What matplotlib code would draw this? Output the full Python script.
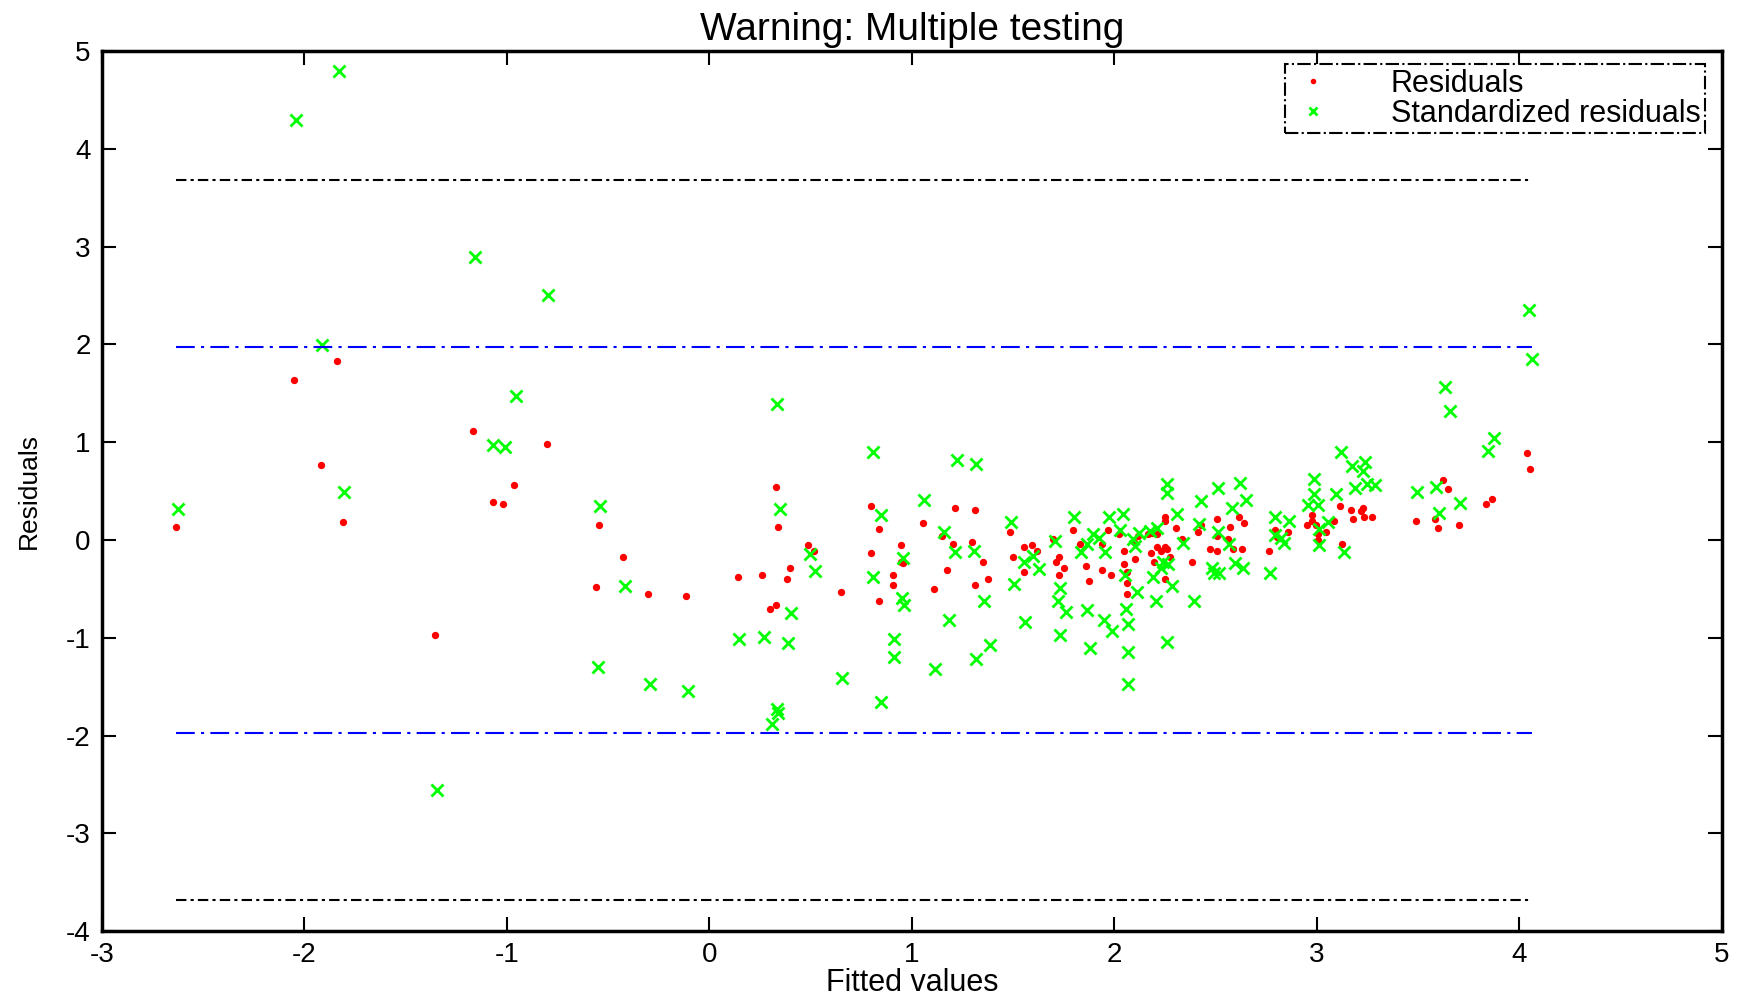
import numpy as np
import matplotlib
matplotlib.use('Agg')
import matplotlib.pyplot as plt

plt.rcParams['font.family'] = ['Liberation Sans', 'DejaVu Sans']
plt.rcParams['axes.unicode_minus'] = False

# residuals (red dots): fitted value, residual
res_fit = [-2.632, -2.054, -1.920, -1.839, -1.811, -1.355, -1.166, -1.071, -1.018, -0.964, -0.801,
           -0.560, -0.547, -0.425, -0.304, -0.117, 0.139, 0.261, 0.300, 0.327, 0.327, 0.340, 0.381, 0.396,
           0.488, 0.517, 0.649, 0.796, 0.796, 0.837, 0.837, 0.905, 0.905, 0.946, 0.956, 0.946,
           1.054, 1.108, 1.148, 1.174, 1.204, 1.215, 1.296, 1.309, 1.309, 1.350, 1.376,
           1.484, 1.498, 1.552, 1.552, 1.593, 1.619, 1.695, 1.713, 1.726, 1.728, 1.752, 1.793, 1.831,
           1.861, 1.873, 1.941, 1.941, 1.969, 1.982, 2.023, 2.048, 2.049, 2.061, 2.064, 2.064, 2.097,
           2.102, 2.118, 2.166, 2.182, 2.187, 2.195, 2.210, 2.212, 2.228, 2.251, 2.251, 2.251, 2.251,
           2.261, 2.276, 2.305, 2.332, 2.384, 2.414, 2.429, 2.474, 2.507, 2.507, 2.507, 2.560, 2.573,
           2.586, 2.614, 2.629, 2.642, 2.762, 2.795, 2.803, 2.856,
           2.951, 2.977, 2.977, 2.994, 3.003, 3.006, 3.046, 3.085, 3.112, 3.125, 3.167, 3.179, 3.217,
           3.230, 3.233, 3.272, 3.488, 3.581, 3.596, 3.621, 3.649, 3.703, 3.837, 3.864, 4.038, 4.054]
res_val = [0.136, 1.634, 0.771, 1.825, 0.187, -0.976, 1.116, 0.386, 0.368, 0.560, 0.983,
           -0.478, 0.157, -0.171, -0.553, -0.573, -0.382, -0.362, -0.710, -0.669, 0.539, 0.136, -0.402, -0.287,
           -0.055, -0.113, -0.532, 0.348, -0.133, 0.116, -0.628, -0.362, -0.457, -0.055, -0.239, -0.225,
           0.177, -0.498, 0.041, -0.304, -0.038, 0.331, -0.017, 0.310, -0.457, -0.228, -0.399,
           0.078, -0.171, -0.075, -0.324, -0.055, -0.113, 0.007, -0.228, -0.362, -0.171, -0.287, 0.099, -0.038,
           -0.266, -0.420, -0.038, -0.304, 0.099, -0.362, 0.061, -0.113, -0.246, -0.437, -0.324, -0.553, -0.017,
           -0.191, 0.041, 0.061, -0.133, 0.068, -0.228, -0.075, 0.061, -0.113, -0.075, 0.232, 0.198, -0.399,
           -0.096, -0.171, 0.119, 0.007, -0.228, 0.078, 0.157, -0.096, 0.215, 0.041, -0.113, 0.007, 0.136,
           -0.096, 0.235, -0.096, 0.177, -0.113, 0.099, 0.034, 0.078,
           0.153, 0.252, 0.194, 0.153, 0.058, 0.003, 0.078, 0.194, 0.348, -0.038, 0.307, 0.211, 0.293,
           0.324, 0.232, 0.232, 0.194, 0.211, 0.119, 0.614, 0.519, 0.153, 0.365, 0.423, 0.887, 0.730]

# standardized residuals (green crosses)
std_fit = [-2.624, -2.044, -1.913, -1.831, -1.803, -1.346, -1.158, -1.067, -1.010, -0.957, -0.796,
           -0.552, -0.539, -0.419, -0.296, -0.108, 0.148, 0.268, 0.307, 0.332, 0.337, 0.333, 0.350, 0.388,
           0.402, 0.498, 0.522, 0.657, 0.808, 0.808, 0.846, 0.846, 0.911, 0.911, 0.954, 0.952, 0.961,
           1.061, 1.115, 1.156, 1.182, 1.212, 1.223, 1.305, 1.317, 1.317, 1.358, 1.384,
           1.491, 1.506, 1.555, 1.557, 1.598, 1.627, 1.708, 1.719, 1.732, 1.732, 1.762, 1.801, 1.837,
           1.867, 1.867, 1.880, 1.895, 1.923, 1.949, 1.952, 1.974, 1.990, 2.028, 2.044, 2.054, 2.058,
           2.067, 2.067, 2.067, 2.094, 2.103, 2.110, 2.122, 2.174, 2.189, 2.205, 2.212, 2.228, 2.240,
           2.258, 2.258, 2.258, 2.264, 2.284, 2.310, 2.338, 2.393, 2.419, 2.430, 2.484, 2.491, 2.512,
           2.512, 2.516, 2.568, 2.580, 2.593, 2.619, 2.634, 2.649, 2.767, 2.795, 2.795, 2.823, 2.839, 2.862,
           2.954, 2.987, 2.987, 3.003, 3.010, 3.010, 3.053, 3.092, 3.118, 3.135, 3.171, 3.189, 3.230,
           3.238, 3.246, 3.286, 3.496, 3.588, 3.601, 3.631, 3.657, 3.709, 3.847, 3.874, 4.048, 4.061]
std_val = [0.317, 4.29, 1.99, 4.79, 0.488, -2.56, 2.89, 0.97, 0.95, 1.47, 2.50,
           -1.297, 0.351, -0.474, -1.471, -1.549, -1.010, -0.989, -1.887, -1.733, -1.774, 1.392, 0.314, -1.051,
           -0.744, -0.143, -0.317, -1.409, 0.894, -0.375, 0.259, -1.661, -1.010, -1.201, -0.184, -0.594, -0.662,
           0.409, -1.317, 0.085, -0.815, -0.126, 0.815, -0.109, 0.775, -1.221, -0.628, -1.071,
           0.181, -0.454, -0.225, -0.839, -0.160, -0.300, -0.010, -0.624, -0.491, -0.969, -0.740, 0.239, -0.126,
           -0.044, -0.720, -1.102, 0.065, 0.017, -0.815, -0.126, 0.239, -0.931, 0.102, 0.263, -0.358, -0.703,
           -0.856, -1.143, -1.471, 0.013, -0.058, -0.529, 0.068, 0.095, -0.375, -0.628, 0.126, -0.290, -0.222,
           0.570, 0.481, -1.047, -0.246, -0.471, 0.263, -0.027, -0.628, 0.167, 0.396, -0.290, -0.334, 0.529,
           0.082, -0.334, -0.044, 0.331, -0.239, 0.587, -0.283, 0.413, -0.334, 0.239, 0.051, 0.017, -0.027, 0.198,
           0.355, 0.621, 0.471, 0.355, 0.109, -0.051, 0.181, 0.471, 0.894, -0.126, 0.757, 0.529, 0.709,
           0.798, 0.570, 0.563, 0.488, 0.546, 0.280, 1.563, 1.314, 0.375, 0.907, 1.044, 2.347, 1.849]

# reference bands
band_inner = 1.97
band_outer = 3.68

fig = plt.figure(figsize=(17.4, 9.98), dpi=100)
ax = fig.add_axes([0.0586, 0.067, 0.931, 0.882])

ax.plot(res_fit, res_val, '.', color='#ff0000', markersize=8.5, label='Residuals')
ax.plot(std_fit, std_val, 'x', color='#00ff00', markersize=9, markeredgewidth=2,
        label='Standardized residuals')

xmin, xmax = min(res_fit + std_fit), max(res_fit + std_fit)
for c in (band_inner, -band_inner):
    ax.plot([xmin, xmax], [c, c], color='#0000ff', linewidth=1.5, dashes=(9, 3, 1.5, 3))
for c in (band_outer, -band_outer):
    ax.plot([xmin, xmax], [c, c], color='black', linewidth=1.5, dashes=(5, 2, 1.5, 2))

ax.set_xlim(-3, 5)
ax.set_ylim(-4, 5)
ax.set_xticks(range(-3, 6))
ax.set_yticks(range(-4, 6))
ax.tick_params(direction='in', top=True, right=True, length=10, width=1.5, labelsize=20, pad=8)
for s in ax.spines.values():
    s.set_linewidth(2.5)

ax.set_title('Warning: Multiple testing', fontsize=28, pad=8)
ax.set_xlabel('Fitted values', fontsize=22, labelpad=0)
ax.set_ylabel('Residuals', fontsize=19, labelpad=18)

leg = ax.legend(loc='upper right', fontsize=22, fancybox=False, framealpha=1,
                edgecolor='black', handlelength=1.5, handletextpad=1.8, borderpad=0.15,
                labelspacing=0.0, markerscale=0.7, borderaxespad=0,
                bbox_to_anchor=(0.9897, 0.985))
leg.get_frame().set_linestyle('-.')
leg.get_frame().set_linewidth(1.5)

fig.savefig('out.png', dpi=100)
